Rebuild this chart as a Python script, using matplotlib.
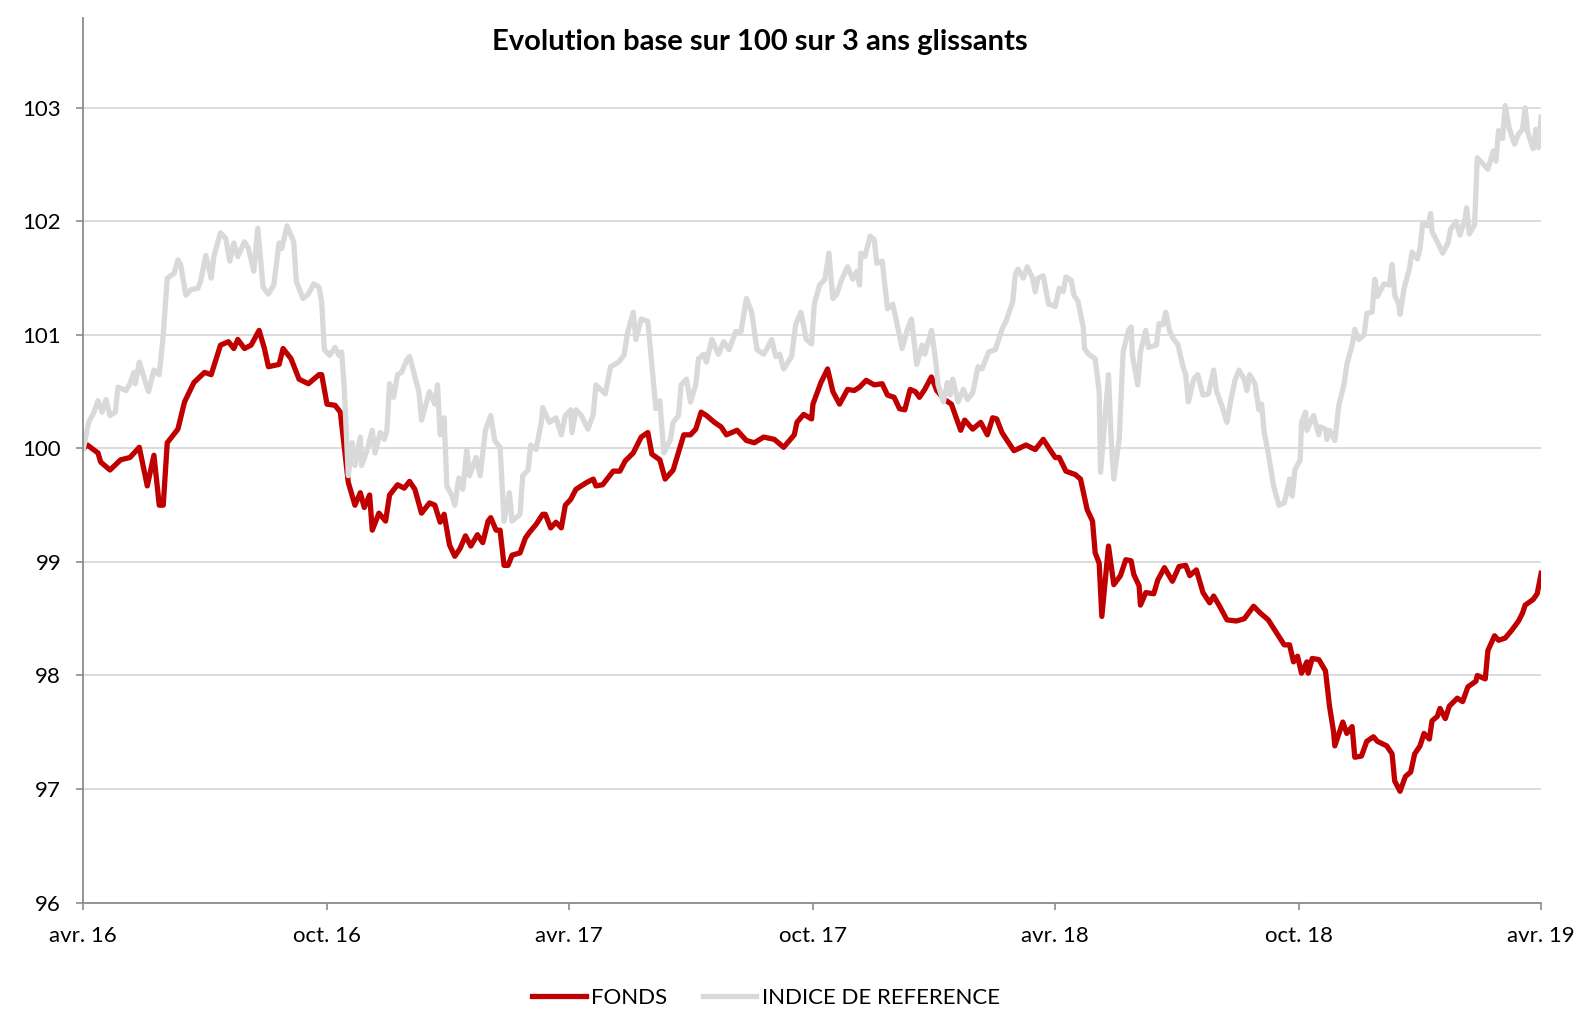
import pandas as pd
import matplotlib
matplotlib.use("Agg")
import matplotlib.pyplot as plt

plt.rcParams['font.family'] = ['Lato', 'DejaVu Sans']

start = pd.Timestamp('2016-04-01')

# FONDS : jours depuis le 01/04/2016 et valeur base 100
fonds_jours = [0, 3, 11, 13, 20, 28, 35, 42, 48, 53, 57, 60, 63, 71, 76, 83, 91, 96, 103, 109,
               113, 116, 121, 126, 132, 136, 139, 147, 150, 156, 162, 169, 177, 179, 183, 189, 193, 199, 204, 208,
               211, 215, 217, 222, 227, 230, 236, 241, 245, 249, 254, 260, 264, 268, 271, 275, 279, 283, 287, 291,
               296, 300, 304, 306, 310, 313, 316, 319, 322, 328, 332, 335, 340, 345, 347, 351, 355, 359, 362, 366,
               370, 378, 383, 385, 390, 398, 403, 407, 413, 419, 424, 427, 433, 437, 443, 451, 456, 460, 464, 468,
               474, 479, 483, 491, 498, 504, 511, 519, 526, 534, 536, 541, 547, 548, 554, 559, 563, 568, 574, 579,
               583, 588, 594, 600, 604, 609, 613, 617, 621, 625, 628, 632, 637, 641, 647, 652, 659, 662, 668, 674,
               679, 683, 686, 690, 695, 699, 708, 715, 721, 726, 730, 733, 738, 745, 749, 754, 758, 760, 763, 765,
               770, 774, 779, 783, 787, 789, 793, 794, 798, 804, 807, 812, 818, 823, 828, 831, 836, 841, 846, 849,
               853, 859, 866, 872, 879, 884, 890, 896, 902, 906, 909, 912, 915, 919, 920, 923, 928, 933, 936, 939,
               940, 946, 949, 953, 955, 960, 964, 969, 972, 979, 983, 985, 989, 993, 997, 1000, 1004, 1007, 1011, 1013,
               1017, 1019, 1023, 1026, 1032, 1036, 1040, 1046, 1047, 1053, 1055, 1060, 1063, 1068, 1073, 1078, 1081, 1083, 1089, 1092,
               1095]
fonds = [100.00, 100.03, 99.96, 99.88, 99.81, 99.90, 99.92, 100.01, 99.67, 99.94, 99.50, 99.50, 100.05, 100.17, 100.41, 100.58, 100.67, 100.65, 100.91, 100.94,
         100.88, 100.96, 100.88, 100.91, 101.04, 100.88, 100.72, 100.74, 100.88, 100.79, 100.61, 100.57, 100.65, 100.65, 100.39, 100.38, 100.32, 99.70, 99.50, 99.61,
         99.48, 99.59, 99.28, 99.43, 99.36, 99.59, 99.68, 99.65, 99.71, 99.64, 99.43, 99.52, 99.50, 99.35, 99.42, 99.15, 99.05, 99.12, 99.23, 99.14,
         99.24, 99.17, 99.36, 99.39, 99.28, 99.28, 98.97, 98.97, 99.06, 99.08, 99.21, 99.26, 99.33, 99.42, 99.42, 99.30, 99.35, 99.30, 99.50, 99.55,
         99.64, 99.70, 99.73, 99.67, 99.68, 99.80, 99.80, 99.89, 99.96, 100.10, 100.14, 99.95, 99.90, 99.73, 99.81, 100.12, 100.12, 100.17, 100.32, 100.29,
         100.23, 100.19, 100.12, 100.16, 100.07, 100.05, 100.10, 100.08, 100.01, 100.12, 100.23, 100.30, 100.26, 100.39, 100.58, 100.70, 100.50, 100.39, 100.52, 100.51,
         100.54, 100.60, 100.56, 100.57, 100.47, 100.45, 100.35, 100.34, 100.52, 100.50, 100.45, 100.52, 100.63, 100.51, 100.43, 100.39, 100.16, 100.25, 100.17, 100.23,
         100.12, 100.27, 100.26, 100.14, 100.05, 99.98, 100.03, 99.99, 100.08, 99.99, 99.92, 99.92, 99.80, 99.77, 99.73, 99.46, 99.36, 99.08, 98.99, 98.52,
         99.14, 98.80, 98.88, 99.02, 99.01, 98.89, 98.79, 98.62, 98.73, 98.72, 98.84, 98.95, 98.83, 98.96, 98.97, 98.88, 98.93, 98.73, 98.64, 98.70,
         98.62, 98.49, 98.48, 98.50, 98.61, 98.55, 98.49, 98.38, 98.27, 98.27, 98.12, 98.17, 98.02, 98.12, 98.02, 98.15, 98.14, 98.04, 97.73, 97.51,
         97.38, 97.59, 97.49, 97.55, 97.28, 97.29, 97.42, 97.46, 97.42, 97.38, 97.31, 97.07, 96.98, 97.11, 97.15, 97.31, 97.38, 97.49, 97.44, 97.60,
         97.64, 97.71, 97.62, 97.73, 97.80, 97.77, 97.90, 97.95, 98.00, 97.97, 98.22, 98.35, 98.31, 98.33, 98.40, 98.48, 98.55, 98.62, 98.67, 98.72,
         98.90]

# INDICE DE REFERENCE
indice_jours = [0, 4, 8, 11, 14, 17, 20, 24, 26, 32, 35, 38, 39, 42, 47, 49, 53, 57, 60, 63,
                68, 71, 73, 77, 81, 86, 88, 92, 96, 98, 103, 107, 110, 113, 116, 121, 124, 128, 131, 135,
                139, 143, 147, 149, 153, 158, 160, 165, 169, 173, 177, 179, 181, 185, 189, 192, 194, 196, 199, 202,
                204, 208, 209, 213, 217, 219, 223, 226, 228, 230, 233, 236, 239, 243, 245, 252, 254, 260, 264, 266,
                268, 271, 273, 277, 279, 282, 285, 288, 290, 295, 298, 302, 306, 309, 313, 316, 320, 322, 328, 330,
                334, 336, 340, 344, 345, 350, 355, 359, 362, 366, 367, 370, 374, 379, 383, 385, 392, 396, 402, 406,
                409, 413, 415, 419, 424, 427, 430, 433, 436, 441, 443, 447, 449, 453, 456, 460, 462, 466, 468, 472,
                477, 481, 485, 490, 494, 498, 502, 506, 511, 514, 517, 520, 523, 526, 532, 535, 539, 543, 547, 549,
                553, 557, 560, 563, 566, 569, 574, 578, 581, 583, 584, 587, 591, 594, 596, 600, 604, 608, 612, 615,
                619, 622, 626, 630, 632, 637, 640, 642, 646, 649, 651, 653, 657, 661, 664, 668, 672, 675, 680, 685,
                690, 693, 698, 700, 702, 706, 709, 713, 715, 717, 721, 725, 726, 730, 733, 736, 738, 742, 744, 747,
                751, 752, 755, 760, 763, 764, 766, 770, 772, 774, 778, 781, 785, 787, 788, 792, 794, 798, 800, 806,
                808, 811, 813, 816, 819, 822, 826, 828, 830, 834, 837, 841, 845, 849, 851, 855, 859, 862, 865, 868,
                872, 874, 876, 880, 883, 885, 887, 890, 894, 898, 902, 904, 906, 908, 910, 914, 915, 918, 919, 924,
                928, 929, 933, 934, 936, 940, 943, 947, 949, 953, 955, 958, 962, 964, 968, 970, 972, 977, 981, 983,
                985, 988, 989, 992, 996, 998, 1002, 1004, 1006, 1010, 1012, 1013, 1017, 1021, 1025, 1027, 1031, 1034, 1038, 1039,
                1041, 1045, 1047, 1051, 1055, 1059, 1061, 1063, 1066, 1068, 1071, 1075, 1078, 1081, 1083, 1085, 1089, 1091, 1093, 1095]
indice = [100.00, 100.23, 100.32, 100.42, 100.32, 100.43, 100.29, 100.32, 100.54, 100.51, 100.57, 100.67, 100.57, 100.76, 100.57, 100.50, 100.69, 100.65, 101.00, 101.50,
          101.54, 101.66, 101.62, 101.35, 101.40, 101.41, 101.47, 101.70, 101.50, 101.69, 101.90, 101.85, 101.65, 101.81, 101.69, 101.82, 101.76, 101.56, 101.94, 101.42,
          101.36, 101.44, 101.81, 101.76, 101.96, 101.82, 101.47, 101.32, 101.36, 101.45, 101.42, 101.29, 100.87, 100.82, 100.89, 100.82, 100.85, 100.52, 99.76, 100.05,
          99.85, 100.10, 99.85, 99.98, 100.16, 99.96, 100.14, 100.08, 100.16, 100.57, 100.45, 100.65, 100.67, 100.78, 100.81, 100.50, 100.25, 100.50, 100.39, 100.56,
          100.12, 100.27, 99.67, 99.58, 99.50, 99.74, 99.64, 99.99, 99.76, 99.92, 99.76, 100.16, 100.29, 100.07, 100.01, 99.36, 99.61, 99.36, 99.42, 99.76,
          99.81, 100.03, 99.99, 100.23, 100.36, 100.23, 100.27, 100.12, 100.29, 100.34, 100.14, 100.34, 100.29, 100.17, 100.30, 100.56, 100.48, 100.72, 100.76, 100.82,
          101.03, 101.20, 100.96, 101.14, 101.12, 100.73, 100.35, 100.42, 99.96, 100.08, 100.23, 100.29, 100.56, 100.61, 100.41, 100.56, 100.79, 100.83, 100.76, 100.96,
          100.83, 100.94, 100.87, 101.03, 101.03, 101.32, 101.20, 100.87, 100.83, 100.89, 100.96, 100.81, 100.83, 100.70, 100.81, 101.09, 101.20, 100.96, 100.92, 101.27,
          101.44, 101.49, 101.72, 101.32, 101.36, 101.47, 101.60, 101.49, 101.56, 101.44, 101.72, 101.69, 101.87, 101.84, 101.63, 101.65, 101.23, 101.27, 101.05, 100.88,
          101.05, 101.14, 100.74, 100.91, 100.83, 101.04, 100.79, 100.56, 100.41, 100.58, 100.47, 100.61, 100.41, 100.52, 100.43, 100.49, 100.72, 100.70, 100.85, 100.87,
          101.05, 101.12, 101.29, 101.53, 101.58, 101.50, 101.60, 101.50, 101.38, 101.50, 101.52, 101.27, 101.27, 101.25, 101.41, 101.38, 101.51, 101.48, 101.35, 101.30,
          101.07, 100.88, 100.83, 100.79, 100.50, 99.79, 100.07, 100.65, 100.08, 99.73, 100.08, 100.85, 101.04, 101.07, 100.82, 100.56, 100.85, 101.04, 100.89, 100.91,
          101.10, 101.09, 101.20, 101.03, 100.96, 100.92, 100.72, 100.65, 100.41, 100.61, 100.65, 100.47, 100.48, 100.69, 100.51, 100.38, 100.23, 100.43, 100.60, 100.69,
          100.61, 100.51, 100.65, 100.57, 100.34, 100.39, 100.14, 99.96, 99.67, 99.50, 99.52, 99.62, 99.73, 99.58, 99.81, 99.90, 100.23, 100.32, 100.16, 100.29,
          100.12, 100.19, 100.17, 100.08, 100.16, 100.07, 100.38, 100.57, 100.74, 100.91, 101.05, 100.96, 101.00, 101.19, 101.20, 101.49, 101.34, 101.45, 101.44, 101.62,
          101.35, 101.27, 101.18, 101.41, 101.58, 101.73, 101.67, 101.76, 101.98, 101.96, 102.07, 101.91, 101.82, 101.72, 101.81, 101.93, 102.00, 101.88, 102.03, 102.12,
          101.89, 101.97, 102.56, 102.51, 102.46, 102.62, 102.53, 102.80, 102.73, 103.02, 102.82, 102.68, 102.77, 102.81, 103.00, 102.78, 102.64, 102.81, 102.65, 102.92]

dates_ticks = ['2016-04-01', '2016-10-01', '2017-04-01', '2017-10-01', '2018-04-01', '2018-10-01', '2019-04-01']
labels_ticks = ['avr. 16', 'oct. 16', 'avr. 17', 'oct. 17', 'avr. 18', 'oct. 18', 'avr. 19']
y_ticks = [96, 97, 98, 99, 100, 101, 102, 103]

x_fonds = start + pd.to_timedelta(fonds_jours, unit='D')
x_indice = start + pd.to_timedelta(indice_jours, unit='D')

fig = plt.figure(figsize=(15.76, 10.09), dpi=100)
ax = fig.add_axes([0.0529, 0.1055, 0.925, 0.8765])

ax.plot(x_fonds, fonds, color='#c00000', lw=3.8, label='FONDS', solid_joinstyle='round')
ax.plot(x_indice, indice, color='#d9d9d9', lw=3.8, label='INDICE DE REFERENCE', solid_joinstyle='round')

ax.set_xlim(pd.Timestamp(dates_ticks[0]), pd.Timestamp(dates_ticks[-1]))
ax.set_ylim(96, 103.79)
ax.set_xticks(pd.to_datetime(dates_ticks))
ax.set_xticklabels(labels_ticks)
ax.set_yticks(y_ticks)
ax.set_yticklabels([str(v) for v in y_ticks])

ax.grid(axis='y', color='#d9d9d9', lw=1.3)
ax.set_axisbelow(True)
for s in ['top', 'right']:
    ax.spines[s].set_visible(False)
for s in ['left', 'bottom']:
    ax.spines[s].set_color('#8c8c8c')
    ax.spines[s].set_linewidth(1.3)
ax.tick_params(axis='both', colors='#8c8c8c', length=5, width=1.2, labelsize=16, labelcolor='black')
ax.tick_params(axis='y', pad=11)
ax.tick_params(axis='x', pad=12)

fig.text(0.482, 0.958, 'Evolution base sur 100 sur 3 ans glissants', ha='center', va='center',
         fontsize=21, fontweight='bold')

fig.legend(loc='center', bbox_to_anchor=(0.486, 0.011), ncol=2, frameon=False, fontsize=16,
           handlelength=2.4, handletextpad=0.25, columnspacing=1.6)

fig.savefig('out.png', dpi=100)
